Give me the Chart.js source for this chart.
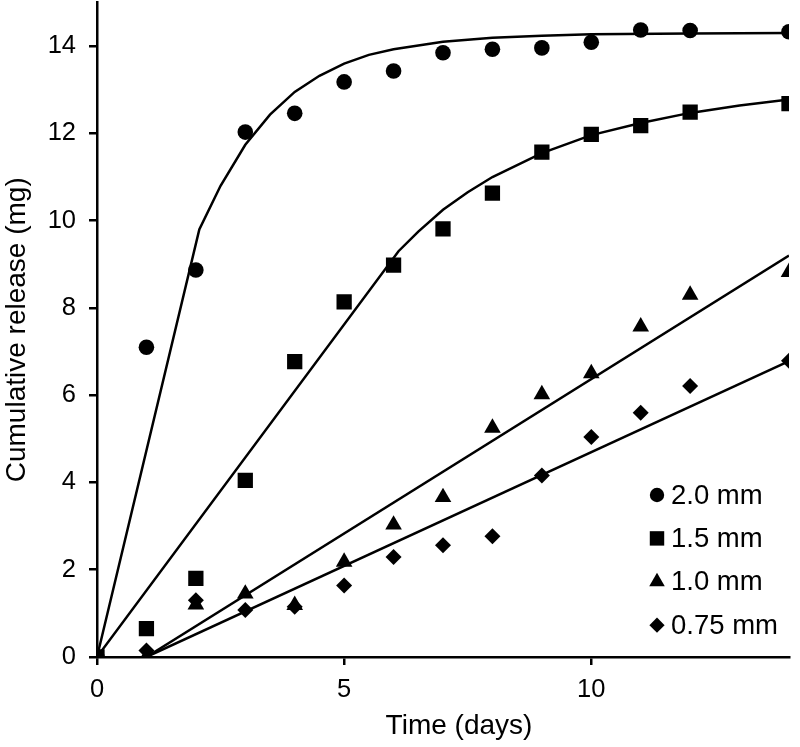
<!DOCTYPE html>
<html>
<head>
<meta charset="utf-8">
<script src="https://cdn.jsdelivr.net/npm/chart.js@4.4.0/dist/chart.umd.min.js"></script>
<style>
  html, body { margin: 0; padding: 0; background: #fff; }
  #wrap { width: 800px; height: 747px; }
</style>
</head>
<body>
<div id="wrap"><canvas id="c"></canvas></div>
<script>
// measured points
const days = [0, 1, 2, 3, 4, 5, 6, 7, 8, 9, 10, 11, 12, 14];
const rel20 = [0, 7.1, 8.87, 12.03, 12.46, 13.18, 13.43, 13.85, 13.93, 13.96, 14.09, 14.37, 14.36, 14.33];
const rel15 = [0, 0.65, 1.8, 4.05, 6.77, 8.14, 8.98, 9.81, 10.63, 11.57, 11.98, 12.18, 12.49, 12.68];
const rel10 = [0, 0, 1.2, 1.45, 1.19, 2.18, 3.03, 3.66, 5.25, 6.02, 6.5, 7.57, 8.3, 8.82];
const rel075 = [0, 0.15, 1.3, 1.08, 1.15, 1.64, 2.29, 2.56, 2.77, 4.16, 5.04, 5.6, 6.21, 6.79];

// fitted curves as [day, mg]
const fit20 = [[0, 0], [2.07, 9.8], [2.5, 10.8], [3, 11.74], [3.5, 12.43], [4, 12.95], [4.5, 13.32], [5, 13.6], [5.5, 13.8], [6, 13.93], [7, 14.1], [8, 14.19], [9, 14.24], [10, 14.27], [12, 14.29], [14, 14.3]];
const fit15 = [[0, 0], [6.1, 9.3], [6.5, 9.75], [7, 10.25], [7.5, 10.65], [8, 11.0], [9, 11.55], [10, 11.96], [11, 12.24], [12, 12.47], [13, 12.64], [14, 12.78]];
const fit10 = [[1, 0], [14, 9.2]];
const fit075 = [[1, 0], [14, 6.78]];

const seriesNames = ['2.0 mm', '1.5 mm', '1.0 mm', '0.75 mm'];
const xTitle = 'Time (days)';
const yTitle = 'Cumulative release (mg)';
const xTicks = [0, 5, 10];
const yTicks = [0, 2, 4, 6, 8, 10, 12, 14];

const FONT = "'Liberation Sans', Arial, sans-serif";
const pts = vals => days.map((d, i) => ({ x: d, y: vals[i] }));
const curve = arr => arr.map(p => ({ x: p[0], y: p[1] }));

const markerSets = [
  { name: seriesNames[0], data: pts(rel20), style: 'circle', r: 7.8 },
  { name: seriesNames[1], data: pts(rel15), style: 'rect', r: 10.8 },
  { name: seriesNames[2], data: pts(rel10), style: 'triangle', r: 9.6 },
  { name: seriesNames[3], data: pts(rel075), style: 'rectRot', r: 8 },
];

const lineDs = [fit20, fit15, fit10, fit075].map(f => ({
  data: curve(f), showLine: true, borderColor: '#000', borderWidth: 2.5,
  pointRadius: 0, tension: 0, fill: false, order: 2,
}));
const markDs = markerSets.map(m => ({
  label: m.name, data: m.data, showLine: false, pointStyle: m.style,
  pointRadius: m.r, pointHoverRadius: m.r, pointBorderWidth: 0,
  pointBackgroundColor: '#000', backgroundColor: '#000', borderColor: '#000', order: 1,
}));

// the plot runs almost to the top edge; chart.js keeps ~10px there, so stretch the y scale up
const fitTop = {
  id: 'fitTop',
  afterLayout(chart) {
    const y = chart.scales.y, ca = chart.chartArea;
    const d = y.top - 2.5;
    if (d > 0) {
      y.top -= d; y.height += d;
      ca.top -= d; ca.height += d;
      y.configure();
    }
  }
};

// legend inside the plot (lower right) + x title, which sits a bit right of centre
const extras = {
  id: 'extras',
  afterDraw(chart) {
    const ctx = chart.ctx;
    const radii = [7.2, 10.2, 9, 7.6];
    ctx.save();
    ctx.fillStyle = '#000';
    ctx.font = `27.5px ${FONT}`;
    ctx.textBaseline = 'middle';
    ctx.textAlign = 'left';
    markerSets.forEach((m, i) => {
      const y = 495 + i * 43.4;
      Chart.helpers.drawPoint(ctx, { pointStyle: m.style, radius: radii[i], rotation: 0, borderWidth: 0 }, 657, y);
      ctx.fillText(m.name, 671, y + 1);
    });
    ctx.font = `28px ${FONT}`;
    ctx.textAlign = 'center';
    ctx.textBaseline = 'alphabetic';
    ctx.fillText(xTitle, 459, 734);
    ctx.restore();
  }
};

new Chart(document.getElementById('c'), {
  type: 'scatter',
  data: { datasets: [...lineDs, ...markDs] },
  plugins: [fitTop, extras],
  options: {
    responsive: true, maintainAspectRatio: false, animation: false,
    layout: { padding: { top: 2.5, right: 11, left: 0, bottom: 0 } },
    plugins: { legend: { display: false }, tooltip: { enabled: false } },
    scales: {
      x: {
        type: 'linear', min: 0, max: 14,
        afterBuildTicks: s => { s.ticks = xTicks.map(v => ({ value: v })); },
        afterFit: s => { s.height = 90; s.paddingLeft = 0; s.paddingRight = 0; },
        ticks: { color: '#000', font: { family: FONT, size: 25.5 }, padding: 10, maxRotation: 0 },
        grid: { drawOnChartArea: false, color: '#000', lineWidth: 2.5, tickLength: 8 },
        border: { color: '#000', width: 2.5 },
        title: { display: false },
      },
      y: {
        type: 'linear', min: 0, max: 15,
        afterBuildTicks: s => { s.ticks = yTicks.map(v => ({ value: v })); },
        afterFit: s => { s.width = 97; s.paddingTop = 0; s.paddingBottom = 0; },
        ticks: { color: '#000', font: { family: FONT, size: 25.5 }, padding: 13 },
        grid: { drawOnChartArea: false, color: '#000', lineWidth: 2.5, tickLength: 8 },
        border: { color: '#000', width: 2.5 },
        title: { display: true, text: yTitle, color: '#000', font: { family: FONT, size: 28 }, padding: { top: 0, bottom: 0 } },
      },
    },
  },
});
</script>
</body>
</html>
